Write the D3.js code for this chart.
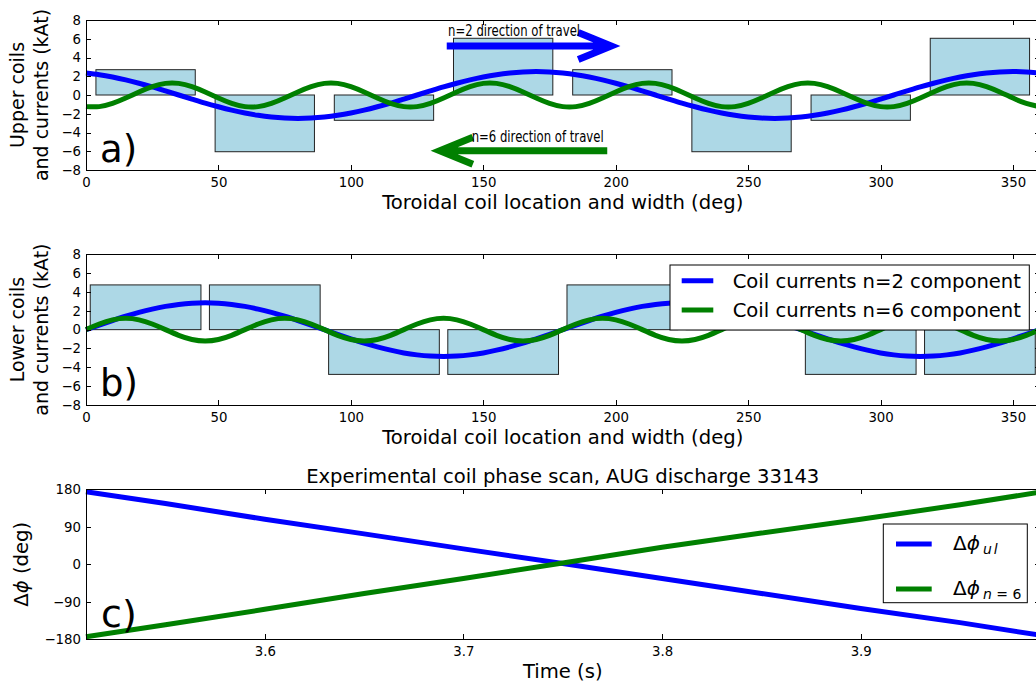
<!DOCTYPE html>
<html>
<head>
<meta charset="utf-8">
<script src="https://cdn.jsdelivr.net/npm/d3@7"></script>
<style>
  body { margin: 0; background: #fff; }
  svg { display: block; }
  text { font-family: "DejaVu Sans", sans-serif; fill: #000; }
</style>
</head>
<body>
<svg id="chart" width="1036" height="685"></svg>
<script>
// Toroidal sampling positions (deg) for the coil current harmonics
const angles = [0,5,10,15,20,25,30,35,40,45,50,55,60,65,70,75,80,85,90,95,100,105,110,115,120,
  125,130,135,140,145,150,155,160,165,170,175,180,185,190,195,200,205,210,215,220,225,230,235,
  240,245,250,255,260,265,270,275,280,285,290,295,300,305,310,315,320,325,330,335,340,345,350,355,360];

// Upper coil row: n=2 and n=6 components (kAt)
const upperN2 = [2.35,2.17,1.92,1.61,1.25,0.86,0.43,0,-0.43,-0.86,-1.25,-1.61,-1.92,-2.17,-2.35,-2.46,
  -2.5,-2.46,-2.35,-2.17,-1.92,-1.61,-1.25,-0.86,-0.43,0,0.43,0.86,1.25,1.61,1.92,2.17,2.35,2.46,2.5,
  2.46,2.35,2.17,1.92,1.61,1.25,0.86,0.43,0,-0.43,-0.86,-1.25,-1.61,-1.92,-2.17,-2.35,-2.46,-2.5,
  -2.46,-2.35,-2.17,-1.92,-1.61,-1.25,-0.86,-0.43,0,0.43,0.86,1.25,1.61,1.92,2.17,2.35,2.46,2.5,2.46,2.35];
const upperN6 = [-1.24,-1.24,-0.9,-0.33,0.33,0.9,1.24,1.24,0.9,0.33,-0.33,-0.9,
  -1.24,-1.24,-0.9,-0.33,0.33,0.9,1.24,1.24,0.9,0.33,-0.33,-0.9,
  -1.24,-1.24,-0.9,-0.33,0.33,0.9,1.24,1.24,0.9,0.33,-0.33,-0.9,
  -1.24,-1.24,-0.9,-0.33,0.33,0.9,1.24,1.24,0.9,0.33,-0.33,-0.9,
  -1.24,-1.24,-0.9,-0.33,0.33,0.9,1.24,1.24,0.9,0.33,-0.33,-0.9,
  -1.24,-1.24,-0.9,-0.33,0.33,0.9,1.24,1.24,0.9,0.33,-0.33,-0.9,-1.24];

// Lower coil row: n=2 and n=6 components (kAt)
const lowerN2 = [0,0.49,0.97,1.43,1.83,2.18,2.47,2.68,2.81,2.85,2.81,2.68,2.47,2.18,1.83,1.43,0.97,0.49,0,
  -0.49,-0.97,-1.43,-1.83,-2.18,-2.47,-2.68,-2.81,-2.85,-2.81,-2.68,-2.47,-2.18,-1.83,-1.43,-0.97,-0.49,0,
  0.49,0.97,1.43,1.83,2.18,2.47,2.68,2.81,2.85,2.81,2.68,2.47,2.18,1.83,1.43,0.97,0.49,0,
  -0.49,-0.97,-1.43,-1.83,-2.18,-2.47,-2.68,-2.81,-2.85,-2.81,-2.68,-2.47,-2.18,-1.83,-1.43,-0.97,-0.49,0];
const lowerN6 = [0,0.6,1.04,1.2,1.04,0.6,0,-0.6,-1.04,-1.2,-1.04,-0.6,
  0,0.6,1.04,1.2,1.04,0.6,0,-0.6,-1.04,-1.2,-1.04,-0.6,
  0,0.6,1.04,1.2,1.04,0.6,0,-0.6,-1.04,-1.2,-1.04,-0.6,
  0,0.6,1.04,1.2,1.04,0.6,0,-0.6,-1.04,-1.2,-1.04,-0.6,
  0,0.6,1.04,1.2,1.04,0.6,0,-0.6,-1.04,-1.2,-1.04,-0.6,
  0,0.6,1.04,1.2,1.04,0.6,0,-0.6,-1.04,-1.2,-1.04,-0.6,0];

// Coils: toroidal centre (deg), angular width (deg), currents (kAt)
const coilCenters = [22.5, 67.5, 112.5, 157.5, 202.5, 247.5, 292.5, 337.5];
const upperCoilWidth = 37.5;
const lowerCoilWidth = 41.8;
const upperCurrents = [2.7, -6.05, -2.7, 6.05, 2.7, -6.05, -2.7, 6.05];
const lowerCurrents = [4.75, 4.75, -4.75, -4.75, 4.75, 4.75, -4.75, -4.75];

// Phase scan, AUG discharge 33143
const scanTime = [3.51, 3.55, 3.6, 3.65, 3.7, 3.75, 3.8, 3.85, 3.9, 3.95, 3.99];
const dPhiUL = [174, 146, 108, 73, 37, 2, -34, -70, -106, -140, -170];
const dPhiN6 = [-174, -145, -108, -70, -34, 3, 41, 75, 108, 143, 173];

// Tick values
const angleTicks = [0, 50, 100, 150, 200, 250, 300, 350];
const currentTicks = [-8, -6, -4, -2, 0, 2, 4, 6, 8];
const timeTicks = [3.6, 3.7, 3.8, 3.9];
const phaseTicks = [-180, -90, 0, 90, 180];

// Travel direction annotations (deg, kAt)
const travelLabels = ["n=2 direction of travel", "n=6 direction of travel"];
const travelFrom = [136.2, 196.8];
const travelTo = [198.3, 133.6];
const travelLevel = [5.23, -5.94];
const travelTextX = [136.7, 145.6];
const travelTextLevel = [6.29, -4.98];
const travelColors = ["#0000ff", "#008000"];

const BLUE = "#0000ff", GREEN = "#008000", COIL = "#add8e6";
const LABEL_SIZE = 19.6;
const svg = d3.select("#chart");
const minus = s => String(s).replace("-", "\u2212");

const plotLeft = 86, plotRight = 1039.5;
const xAngle = d3.scaleLinear().domain([0, 360]).range([plotLeft, plotRight]);
const xTime = d3.scaleLinear().domain([3.51, 3.99]).range([plotLeft, plotRight]);

function frame(x, y, xTickVals, yTickVals, xFmt) {
  const g = svg.append("g");
  const [y0, y1] = y.range();
  const bottom = g.append("g").attr("transform", `translate(0,${y0})`)
    .call(d3.axisBottom(x).tickValues(xTickVals).tickSize(-5).tickPadding(7.3).tickFormat(xFmt));
  const top = g.append("g").attr("transform", `translate(0,${y1})`)
    .call(d3.axisTop(x).tickValues(xTickVals).tickSize(-5).tickFormat(""));
  const left = g.append("g").attr("transform", `translate(${plotLeft},0)`)
    .call(d3.axisLeft(y).tickValues(yTickVals).tickSize(-5).tickPadding(5).tickFormat(minus));
  const right = g.append("g").attr("transform", `translate(${plotRight},0)`)
    .call(d3.axisRight(y).tickValues(yTickVals).tickSize(-5).tickFormat(""));
  [bottom, top, left, right].forEach(a => {
    a.select(".domain").remove();
    a.selectAll("line").attr("stroke", "#000").attr("shape-rendering", "crispEdges");
    a.selectAll("text").attr("font-size", 13.3).attr("font-family", "DejaVu Sans").attr("fill", "#000");
  });
  g.append("rect")
    .attr("x", plotLeft).attr("y", y1)
    .attr("width", plotRight - plotLeft).attr("height", y0 - y1)
    .attr("fill", "none").attr("stroke", "#000").attr("stroke-width", 1)
    .attr("shape-rendering", "crispEdges");
  return g;
}

function coils(layer, y, width, currents) {
  layer.selectAll(null).data(coilCenters).join("rect")
    .attr("x", (c) => xAngle(c - width / 2))
    .attr("width", xAngle(width) - xAngle(0))
    .attr("y", (c, i) => y(Math.max(0, currents[i])))
    .attr("height", (c, i) => Math.abs(y(currents[i]) - y(0)))
    .attr("fill", COIL).attr("stroke", "#222").attr("stroke-width", 1);
}

function harmonic(layer, y, values, color) {
  layer.append("path")
    .datum(angles.map((a, i) => [a, values[i]]))
    .attr("d", d3.line().x(d => xAngle(d[0])).y(d => y(d[1])).curve(d3.curveNatural))
    .attr("fill", "none").attr("stroke", color).attr("stroke-width", 5);
}

function yLabel(lines, cx, cy, gap) {
  const t = svg.append("text")
    .attr("transform", `translate(${cx},${cy}) rotate(-90)`)
    .attr("text-anchor", "middle").attr("font-size", 19);
  lines.forEach((l, i) => t.append("tspan").attr("x", 0).attr("y", i * gap).text(l));
  return t;
}

function panelTag(txt, x, y, size) {
  svg.append("text").attr("x", x).attr("y", y)
    .attr("font-family", "Liberation Sans, Arial, sans-serif")
    .attr("font-size", size).text(txt);
}

function xTitle(txt, y) {
  svg.append("text").attr("x", (plotLeft + plotRight) / 2).attr("y", y)
    .attr("text-anchor", "middle").attr("font-size", LABEL_SIZE).text(txt);
}

// ---- a) upper coils ----
const yA = d3.scaleLinear().domain([-8, 8]).range([170, 20]);
const gA = svg.append("g");
coils(gA, yA, upperCoilWidth, upperCurrents);
harmonic(gA, yA, upperN2, BLUE);
harmonic(gA, yA, upperN6, GREEN);

// direction-of-travel arrows
travelLabels.forEach((label, i) => {
  const x0 = xAngle(travelFrom[i]), x1 = xAngle(travelTo[i]), yy = yA(travelLevel[i]);
  const dir = Math.sign(x1 - x0);
  const back = 33, half = 13.5;
  gA.append("path")
    .attr("d", `M${x0},${yy}L${x1},${yy}M${x1 - dir * back},${yy - half}L${x1},${yy}L${x1 - dir * back},${yy + half}`)
    .attr("fill", "none").attr("stroke", travelColors[i]).attr("stroke-width", 7)
    .attr("stroke-linejoin", "miter").attr("stroke-miterlimit", 10);
  gA.append("text")
    .attr("x", xAngle(travelTextX[i])).attr("y", yA(travelTextLevel[i]))
    .attr("font-family", "Liberation Sans Narrow, Liberation Sans, Arial, sans-serif")
    .attr("font-size", 15.5)
    .attr("textLength", 132).attr("lengthAdjust", "spacingAndGlyphs")
    .text(label);
});
frame(xAngle, yA, angleTicks, currentTicks, d => d);
yLabel(["Upper coils", "and currents (kAt)"], 24, 95, 24);
xTitle("Toroidal coil location and width (deg)", 209);
panelTag("a)", 100, 162, 37);

// ---- b) lower coils ----
const yB = d3.scaleLinear().domain([-8, 8]).range([405, 254.3]);
const gB = svg.append("g");
coils(gB, yB, lowerCoilWidth, lowerCurrents);
harmonic(gB, yB, lowerN2, BLUE);
harmonic(gB, yB, lowerN6, GREEN);
frame(xAngle, yB, angleTicks, currentTicks, d => d);
yLabel(["Lower coils", "and currents (kAt)"], 24, 329.6, 24);
xTitle("Toroidal coil location and width (deg)", 444);
panelTag("b)", 100, 396, 37);

// legend b
const legB = svg.append("g");
legB.append("rect").attr("x", 670).attr("y", 265).attr("width", 359.3).attr("height", 65)
  .attr("fill", "#fff").attr("stroke", "#000").attr("stroke-width", 1);
[["Coil currents n=2 component", BLUE, 280.7], ["Coil currents n=6 component", GREEN, 310]].forEach(([lab, col, yy]) => {
  legB.append("line").attr("x1", 681.7).attr("x2", 713.3).attr("y1", yy).attr("y2", yy)
    .attr("stroke", col).attr("stroke-width", 5);
  legB.append("text").attr("x", 732.7).attr("y", yy + 7.3).attr("font-size", LABEL_SIZE).text(lab);
});

// ---- c) phase scan ----
const yC = d3.scaleLinear().domain([-180, 180]).range([639.3, 489.3]);
const gC = svg.append("g");
[[dPhiUL, BLUE], [dPhiN6, GREEN]].forEach(([vals, col]) => {
  gC.append("path")
    .datum(scanTime.map((t, i) => [t, vals[i]]))
    .attr("d", d3.line().x(d => xTime(d[0])).y(d => yC(d[1])))
    .attr("fill", "none").attr("stroke", col).attr("stroke-width", 5);
});
frame(xTime, yC, timeTicks, phaseTicks, d3.format(".1f"));
xTitle("Experimental coil phase scan, AUG discharge 33143", 483);
xTitle("Time (s)", 678.3);
const yl = svg.append("text")
  .attr("transform", `translate(28,564.3) rotate(-90)`)
  .attr("text-anchor", "middle").attr("font-size", LABEL_SIZE);
yl.append("tspan").text("\u0394");
yl.append("tspan").attr("font-style", "italic").text("\u03d5");
yl.append("tspan").text(" (deg)");
panelTag("c)", 101, 627, 38);

// legend c
const legC = svg.append("g");
legC.append("rect").attr("x", 883.3).attr("y", 524).attr("width", 144).attr("height", 78.7)
  .attr("fill", "#fff").attr("stroke", "#000").attr("stroke-width", 1);
[[["ul"], BLUE, 544], [["n", " = ", "6"], GREEN, 589]].forEach(([sub, col, yy]) => {
  legC.append("line").attr("x1", 896).attr("x2", 931.7).attr("y1", yy).attr("y2", yy)
    .attr("stroke", col).attr("stroke-width", 5);
  const t = legC.append("text").attr("x", 953).attr("y", yy + 5.5)
    .attr("font-family", "DejaVu Serif, serif").attr("font-size", 20);
  t.append("tspan").text("\u0394");
  t.append("tspan").attr("font-style", "italic").text("\u03d5");
  sub.forEach((s, k) => {
    const sp = t.append("tspan").attr("font-size", 14).text(s);
    if (k === 0) sp.attr("dy", 4.5).attr("dx", 3);
    if (s === "ul") sp.attr("letter-spacing", 2);
    if (s !== " = " && s !== "6") sp.attr("font-style", "italic");
  });
});
</script>
</body>
</html>
